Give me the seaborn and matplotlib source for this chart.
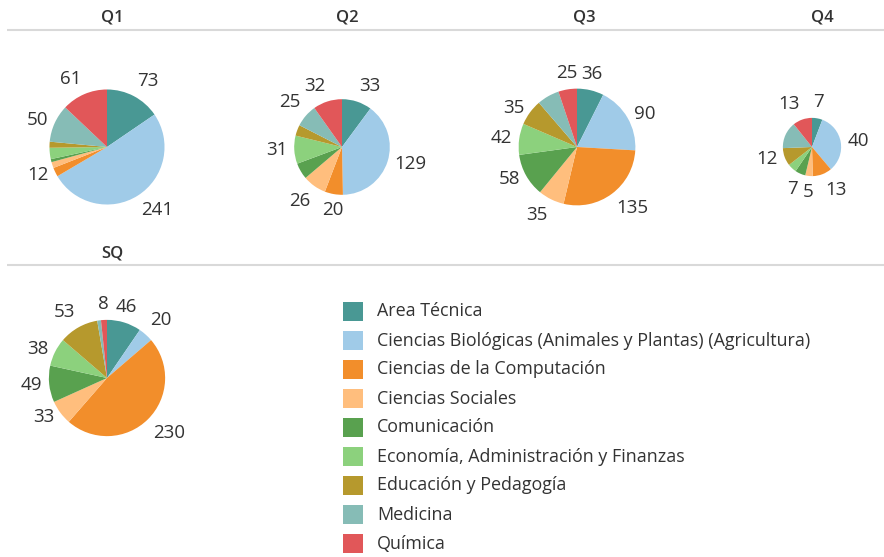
import numpy as np
import matplotlib.pyplot as plt
import seaborn as sns

# Categories and counts per quarter
categories = ['Area Técnica',
              'Ciencias Biológicas (Animales y Plantas) (Agricultura)',
              'Ciencias de la Computación',
              'Ciencias Sociales',
              'Comunicación',
              'Economía, Administración y Finanzas',
              'Educación y Pedagogía',
              'Medicina',
              'Química']
panels = ['Q1', 'Q2', 'Q3', 'Q4', 'SQ']
q1 = [73, 241, 12, 8, 4, 15, 8, 50, 61]
q2 = [33, 129, 20, 26, 18, 31, 12, 25, 32]
q3 = [36, 90, 135, 35, 58, 42, 35, 30, 25]
q4 = [7, 40, 13, 5, 7, 6, 12, 18, 13]
sq = [46, 20, 230, 33, 49, 38, 53, 5, 8]
# which slices carry a value label in the reference
q1_shown = [1, 1, 1, 0, 0, 0, 0, 1, 1]
q2_shown = [1, 1, 1, 1, 0, 1, 0, 1, 1]
q3_shown = [1, 1, 1, 1, 1, 1, 1, 0, 1]
q4_shown = [1, 1, 1, 1, 1, 0, 1, 0, 1]
sq_shown = [1, 1, 1, 1, 1, 1, 1, 0, 1]

sns.set_theme(style='white')
plt.rcParams['font.family'] = ['Open Sans', 'DejaVu Sans']

colors = sns.color_palette(['#499894', '#A0CBE8', '#F28E2B', '#FFBE7D', '#59A14F',
                            '#8CD17D', '#B6992D', '#86BCB6', '#E15759'])
text_col = '#333333'

W, H = 884, 557
fig = plt.figure(figsize=(W / 100, H / 100), dpi=100)
ax = fig.add_axes([0, 0, 1, 1])

# layout in pixel units (y grows downwards)
centers = [(107, 147), (342, 147), (577, 147), (812, 147), (107, 378)]
title_pos = [(112, 17), (347, 17), (584, 17), (822, 17), (112, 253)]
all_values = [q1, q2, q3, q4, sq]
all_shown = [q1_shown, q2_shown, q3_shown, q4_shown, sq_shown]

for name, vals, shown, c, tp in zip(panels, all_values, all_shown, centers, title_pos):
    total = sum(vals)
    r = 58 * np.sqrt(total / 480)  # pie area scales with total
    wedges, _ = ax.pie(vals, colors=colors, center=c, radius=r,
                       startangle=-90, counterclock=True, frame=True,
                       wedgeprops=dict(linewidth=0))
    for w, v, s in zip(wedges, vals, shown):
        if not s:
            continue
        th = np.deg2rad((w.theta1 + w.theta2) / 2)
        dx, dy = np.cos(th), np.sin(th)
        gap = r + 7
        ha = 'left' if dx > 0.3 else ('right' if dx < -0.3 else 'center')
        va = 'top' if dy > 0.6 else ('bottom' if dy < -0.6 else 'center')
        ax.text(c[0] + gap * dx, c[1] + gap * dy, str(v), ha=ha, va=va,
                fontsize=13.5, color=text_col)
    ax.text(tp[0], tp[1], name, ha='center', va='center', fontsize=12,
            fontweight='semibold', color=text_col)

# separator lines under the header rows
for y in (30, 265):
    ax.plot([7, W], [y, y], color='#d9d9d9', lw=1.5, solid_capstyle='butt')

# legend
for i, (cat, col) in enumerate(zip(categories, colors)):
    y = 311.5 + i * 29
    ax.add_patch(plt.Rectangle((343, y - 9.5), 20, 19, color=col, lw=0))
    ax.text(377, y, cat, ha='left', va='center', fontsize=12.9, color=text_col)

ax.set_xlim(0, W)
ax.set_ylim(H, 0)
ax.set_aspect('equal')
ax.axis('off')

fig.savefig('out.png', dpi=100)
